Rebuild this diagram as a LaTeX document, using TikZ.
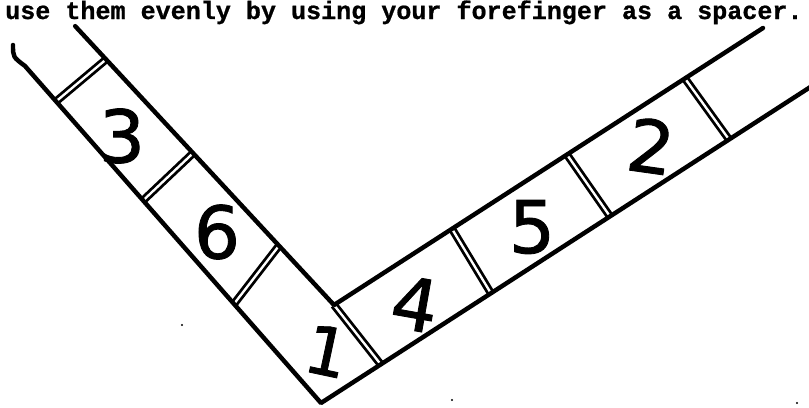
\documentclass[tikz,border=0pt]{standalone}
\usepackage{fontspec}
\usepackage{tikz}
\usetikzlibrary{calc}
\newfontfamily\digitfont{DejaVu Sans}[FakeBold=1.2]
\newfontfamily\notefont{Liberation Mono}[FakeBold=0.8]
\tikzset{
  edgeline/.style={line width=3.8pt,line cap=round,line join=round},
  sepline/.style={double,double distance=2pt,line width=2.4pt},
  digit/.style={font=\digitfont\fontsize{62}{64}\selectfont,inner sep=0pt}
}

\begin{document}
\begin{tikzpicture}[x=0.03cm,y=-0.03cm]
  \clip (0,0) rectangle (809,407);
  \coordinate (la) at (63,13);
  \coordinate (lb) at (25,66);
  \coordinate (corner) at (334,305);
  \coordinate (tip) at (321,403);
  \coordinate (ra) at (763,28);
  \coordinate (rb) at (815,84);

  \node[anchor=base west,inner sep=0pt,font=\notefont\bfseries\fontsize{21.4}{24}\selectfont] (note) at (5,19) {use them evenly by using your forefinger as a spacer.};

  \draw[sepline] ($(lb)!0.105!(tip)$) -- ($(la)!0.159!(corner)$);
  \draw[sepline] ($(lb)!0.399!(tip)$) -- ($(la)!0.48!(corner)$);
  \draw[sepline] ($(lb)!0.706!(tip)$) -- ($(la)!0.797!(corner)$);
  \draw[sepline] (corner) -- ($(tip)!0.121!(rb)$);
  \draw[sepline] ($(corner)!0.275!(ra)$) -- ($(tip)!0.344!(rb)$);
  \draw[sepline] ($(corner)!0.543!(ra)$) -- ($(tip)!0.585!(rb)$);
  \draw[sepline] ($(corner)!0.818!(ra)$) -- ($(tip)!0.826!(rb)$);

  \draw[edgeline] (13,45) .. controls (13,57) .. (lb) -- (tip) -- (rb);
  \draw[edgeline] ($(la)!0.045!(corner)$) -- (corner) -- (ra);

  \node[digit] (n3) at (122,136) {3};
  \node[digit] (n6) at (217,232) {6};
  \node[digit,rotate=-12,scale=0.92] (n1) at (327,351) {1};
  \node[digit,rotate=-10] (n4) at (415,304) {4};
  \node[digit] (n5) at (532,227) {5};
  \node[digit,rotate=-8] (n2) at (651,146) {2};

  \fill (182,325) circle (1.2);
  \fill (452,400) circle (1.2);
  \fill (797,403) circle (1.2);
\end{tikzpicture}
\end{document}
